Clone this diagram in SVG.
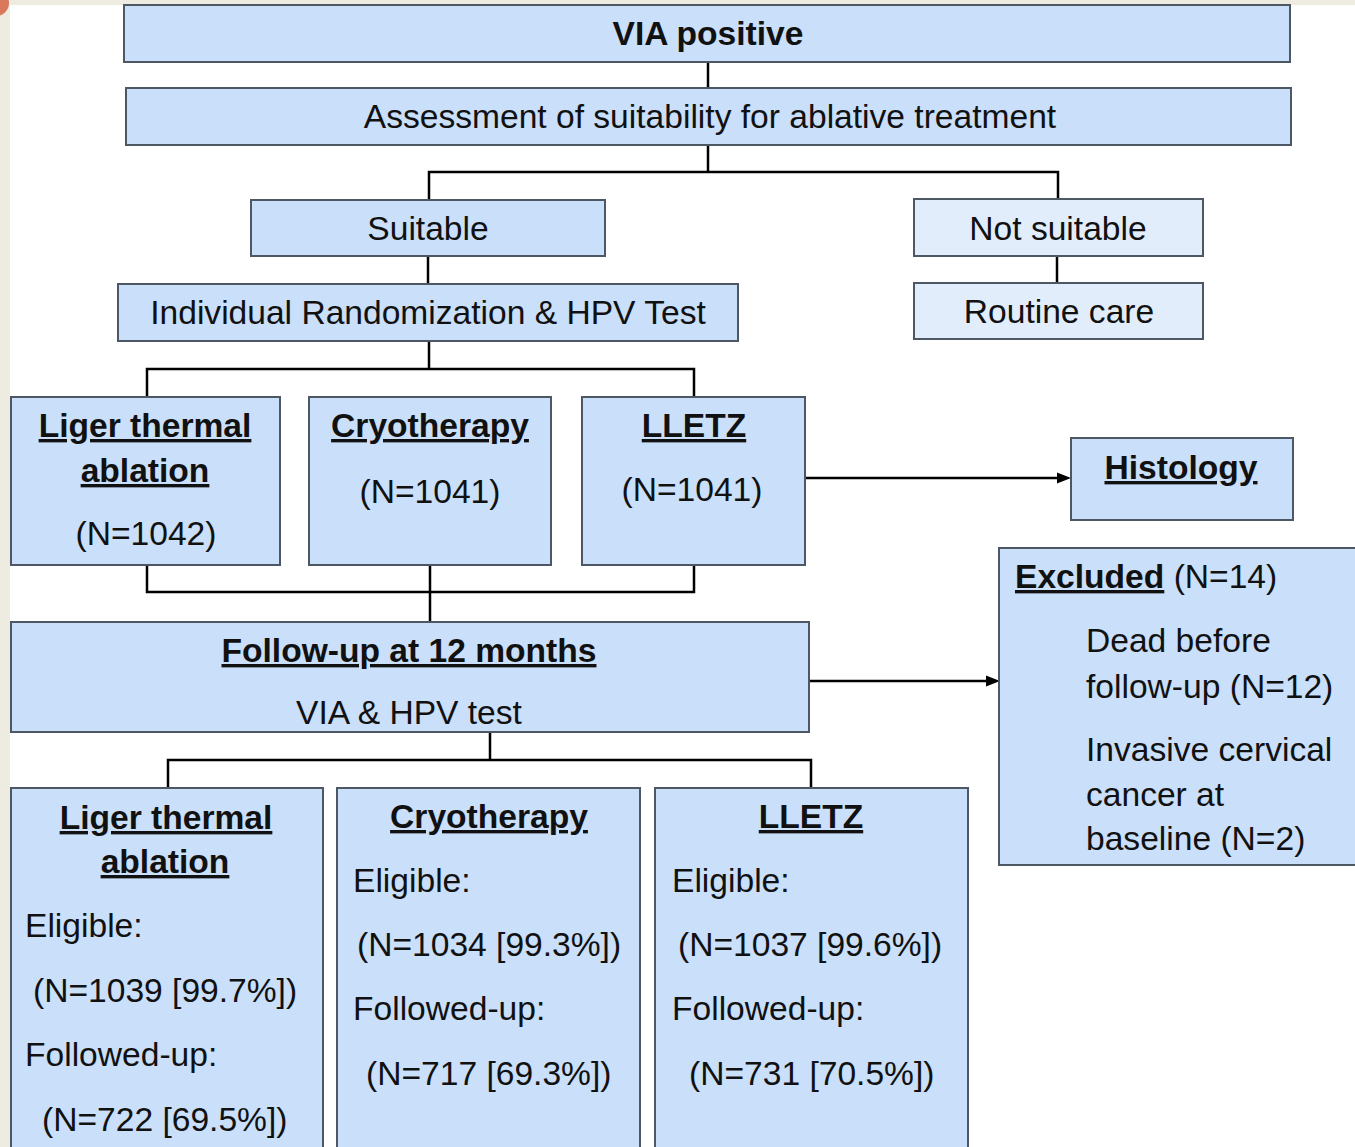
<svg xmlns="http://www.w3.org/2000/svg" width="1355" height="1147" viewBox="0 0 1355 1147">
<style>
.box{fill:#c9dffa;stroke:#4e5864;stroke-width:2}
.lbox{fill:#e2edfc;stroke:#4e5864;stroke-width:2}
text{font-family:"Liberation Sans",Arial,sans-serif;font-size:33.6px;fill:#111}
.c{text-anchor:middle}
.b{font-weight:bold}
.u{text-decoration:underline}
.ln{fill:none;stroke:#000;stroke-width:2.5}
.ah{fill:#000}
</style>
<rect x="0" y="0" width="1355" height="1147" fill="#fff"/>
<rect x="0" y="0" width="1355" height="5" fill="#eeebe0"/>
<rect x="0" y="0" width="10" height="1147" fill="#eeebe0"/>
<circle cx="-4" cy="3" r="13" fill="#d9785b"/>

<g id="connectors">
<path class="ln" d="M708,62 V88"/>
<path class="ln" d="M708,145 V172 M429,200 V172 H1058 V200"/>
<path class="ln" d="M1057,256 V283"/>
<path class="ln" d="M428,256 V284"/>
<path class="ln" d="M429,341 V369 M147,397 V369 H694 V397"/>
<path class="ln" d="M147,565 V592 H694 V565 M430,565 V622"/>
<path class="ln" d="M805,478 H1060"/>
<polygon class="ah" points="1071,478 1057,472.5 1057,483.5"/>
<path class="ln" d="M809,681 H989"/>
<polygon class="ah" points="1000,681 986,675.5 986,686.5"/>
<path class="ln" d="M490,732 V760 M168,788 V760 H811 V788"/>
</g>

<g id="via"><rect class="box" x="124" y="5" width="1166" height="57"/><text class="c b" x="708" y="45">VIA positive</text></g>
<g id="assess"><rect class="box" x="126" y="88" width="1165" height="57"/><text class="c" x="710" y="128">Assessment of suitability for ablative treatment</text></g>
<g id="suitable"><rect class="box" x="251" y="200" width="354" height="56"/><text class="c" x="428" y="240">Suitable</text></g>
<g id="notsuitable"><rect class="lbox" x="914" y="199" width="289" height="57"/><text class="c" x="1058" y="240">Not suitable</text></g>
<g id="routine"><rect class="lbox" x="914" y="283" width="289" height="56"/><text class="c" x="1059" y="323">Routine care</text></g>
<g id="random"><rect class="box" x="118" y="284" width="620" height="57"/><text class="c" x="428" y="324">Individual Randomization &amp; HPV Test</text></g>

<g id="liger1"><rect class="box" x="11" y="397" width="269" height="168"/>
<text class="c b u" x="145" y="437">Liger thermal</text>
<text class="c b u" x="145" y="482">ablation</text>
<text class="c" x="146" y="545">(N=1042)</text></g>
<g id="cryo1"><rect class="box" x="309" y="397" width="242" height="168"/>
<text class="c b u" x="430" y="437">Cryotherapy</text>
<text class="c" x="430" y="503">(N=1041)</text></g>
<g id="lletz1"><rect class="box" x="582" y="397" width="223" height="168"/>
<text class="c b u" x="694" y="437">LLETZ</text>
<text class="c" x="692" y="501">(N=1041)</text></g>
<g id="histology"><rect class="box" x="1071" y="438" width="222" height="82"/>
<text class="c b u" x="1181" y="479">Histology</text></g>

<g id="followup"><rect class="box" x="11" y="622" width="798" height="110"/>
<text class="c b u" x="409" y="662">Follow-up at 12 months</text>
<text class="c" x="409" y="724">VIA &amp; HPV test</text></g>

<g id="excluded"><rect class="box" x="999" y="548" width="370" height="317"/>
<text x="1015" y="588"><tspan class="b u">Excluded</tspan> (N=14)</text>
<text x="1086" y="652">Dead before</text>
<text x="1086" y="698">follow-up (N=12)</text>
<text x="1086" y="761">Invasive cervical</text>
<text x="1086" y="806">cancer at</text>
<text x="1086" y="850">baseline (N=2)</text></g>

<g id="liger2"><rect class="box" x="11" y="788" width="312" height="380"/>
<text class="c b u" x="166" y="829">Liger thermal</text>
<text class="c b u" x="165" y="873">ablation</text>
<text x="25" y="937">Eligible:</text>
<text x="33" y="1002">(N=1039 [99.7%])</text>
<text x="25" y="1066">Followed-up:</text>
<text x="42" y="1131">(N=722 [69.5%])</text></g>
<g id="cryo2"><rect class="box" x="337" y="788" width="303" height="380"/>
<text class="c b u" x="489" y="828">Cryotherapy</text>
<text x="353" y="892">Eligible:</text>
<text x="357" y="956">(N=1034 [99.3%])</text>
<text x="353" y="1020">Followed-up:</text>
<text x="366" y="1085">(N=717 [69.3%])</text></g>
<g id="lletz2"><rect class="box" x="655" y="788" width="313" height="380"/>
<text class="c b u" x="811" y="828">LLETZ</text>
<text x="672" y="892">Eligible:</text>
<text x="678" y="956">(N=1037 [99.6%])</text>
<text x="672" y="1020">Followed-up:</text>
<text x="689" y="1085">(N=731 [70.5%])</text></g>
</svg>
